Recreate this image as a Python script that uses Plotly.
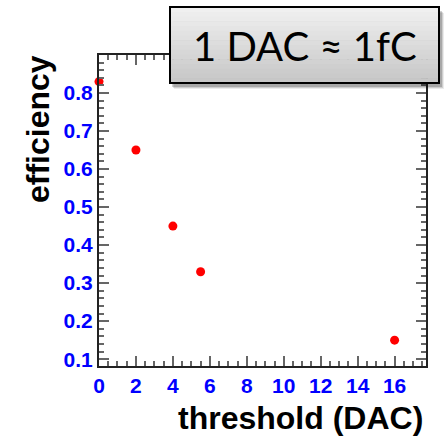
import plotly.graph_objects as go

threshold = [0, 2, 4, 5.5, 16]
efficiency = [0.83, 0.65, 0.45, 0.33, 0.15]
x_ticks = [0, 2, 4, 6, 8, 10, 12, 14, 16]
y_ticks = [0.1, 0.2, 0.3, 0.4, 0.5, 0.6, 0.7, 0.8]

W, H = 446, 436
L, R, T, B = 99, 20, 55, 70
pw, ph = W - L - R, H - T - B

def px(x):
    return (x - L) / pw

def py(y):
    return (H - B - y) / ph

fig = go.Figure()
fig.add_trace(go.Scatter(x=threshold, y=efficiency, mode="markers",
                         marker=dict(color="#ff0000", size=9), cliponaxis=False))

tickfont = dict(family="Liberation Sans, Arial, sans-serif", size=21, color="#0000ff", weight="bold")
axis_common = dict(showgrid=False, zeroline=False, showline=True, linecolor="#222222",
                   linewidth=2, mirror="allticks", ticks="inside", tickcolor="#666666",
                   tickwidth=1.5, ticklen=10, tickfont=tickfont)

fig.update_xaxes(range=[0, 17.7], tickvals=x_ticks,
                 minor=dict(dtick=0.5, ticks="inside", ticklen=5, tickcolor="#666666", tickwidth=1.5),
                 **axis_common)
fig.update_yaxes(range=[0.082, 0.9], tickvals=y_ticks, tickformat=".1f",
                 minor=dict(dtick=0.02, ticks="inside", ticklen=5, tickcolor="#666666", tickwidth=1.5),
                 **axis_common)

titlefont = dict(family="Liberation Sans, Arial, sans-serif", size=32, color="black", weight="bold")
fig.add_annotation(text="efficiency", xref="paper", yref="paper",
                   x=px(38), y=py(129), showarrow=False, textangle=-90, font=titlefont,
                   xanchor="center", yanchor="middle")
fig.add_annotation(text="threshold (DAC)", xref="paper", yref="paper",
                   x=px(425), y=py(418), showarrow=False, font=titlefont,
                   xanchor="right", yanchor="middle")

# label box: soft shadow, gradient fill, border
for i, a in enumerate([0.08, 0.12, 0.18]):
    d = 3 - i
    fig.add_shape(type="rect", xref="paper", yref="paper",
                  x0=px(171 + d), x1=px(441 + d), y0=py(86 + d), y1=py(10 + d),
                  fillcolor=f"rgba(0,0,0,{a})", line=dict(width=0), layer="above")
top, bot = 7, 83
n = 16
for i in range(n):
    t = (i + 0.5) / n
    c = int(242 - (242 - 198) * t)
    y0 = top + (bot - top) * i / n
    y1 = top + (bot - top) * (i + 1) / n
    fig.add_shape(type="rect", xref="paper", yref="paper",
                  x0=px(170), x1=px(439), y0=py(y1 + 0.5), y1=py(y0),
                  fillcolor=f"rgb({c},{c},{c})", line=dict(width=0), layer="above")
fig.add_shape(type="rect", xref="paper", yref="paper",
              x0=px(170), x1=px(439), y0=py(bot), y1=py(top),
              fillcolor="rgba(0,0,0,0)", line=dict(color="black", width=2), layer="above")
fig.add_annotation(text="1 DAC ≈ 1fC", xref="paper", yref="paper",
                   x=px(305), y=py(46), showarrow=False,
                   font=dict(family="Lato, Open Sans, sans-serif", size=40, color="black"),
                   xanchor="center", yanchor="middle")

fig.update_layout(width=W, height=H, margin=dict(l=L, r=R, t=T, b=B),
                  paper_bgcolor="white", plot_bgcolor="white", showlegend=False)

fig.write_html("out.html", config={"displayModeBar": False},
               post_script="document.body.style.margin='0';")
